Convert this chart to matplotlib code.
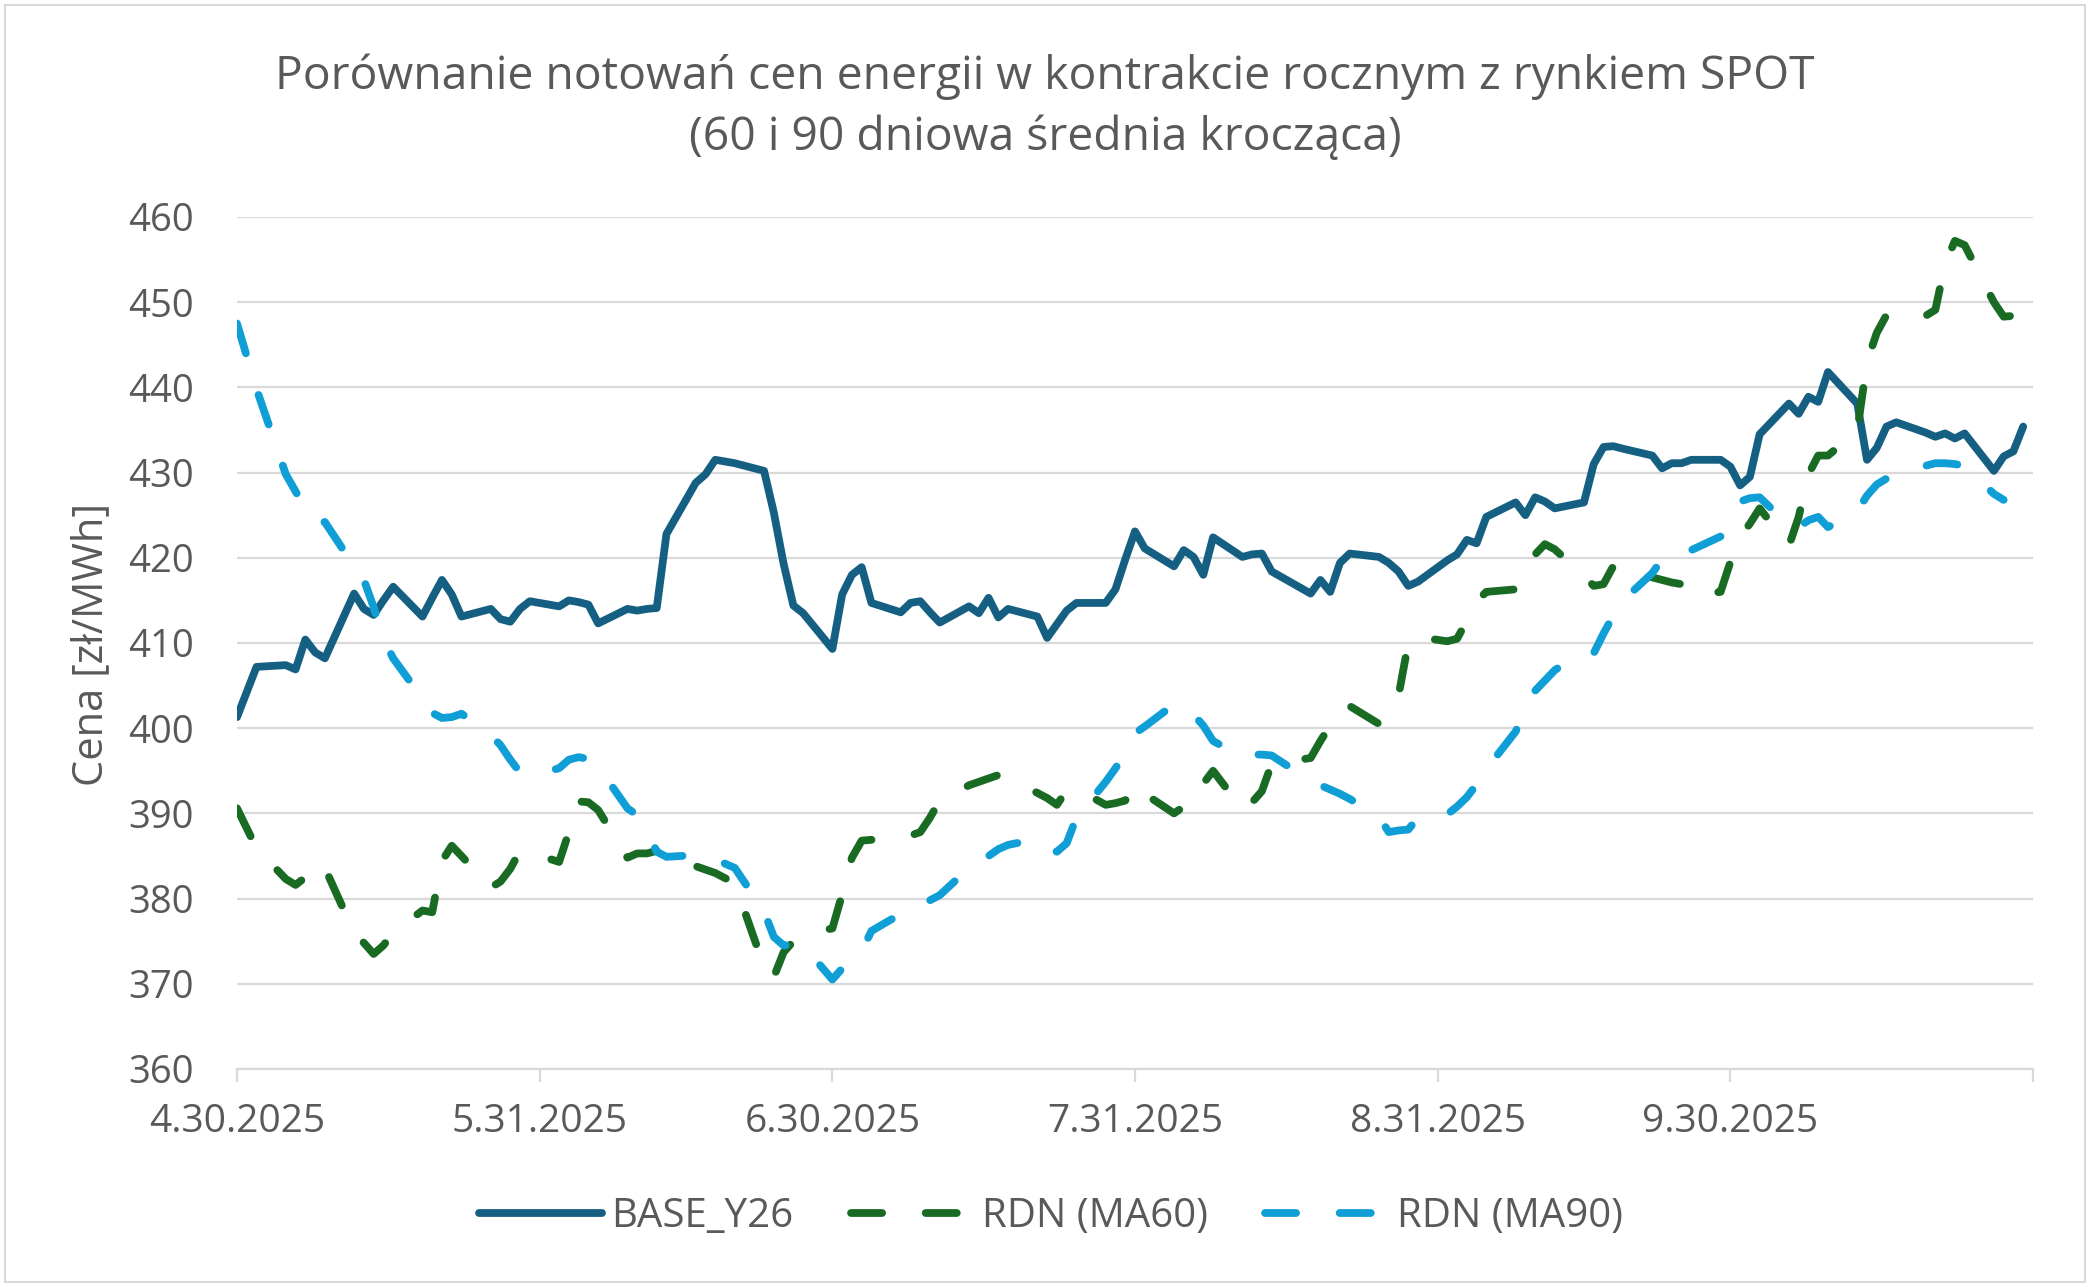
import matplotlib
matplotlib.use("Agg")
import matplotlib.pyplot as plt
from matplotlib.patches import Rectangle
import pandas as pd

# trading days (TGE), Polish holidays removed
holidays = ["2025-05-01", "2025-06-19", "2025-08-15"]
dates = pd.bdate_range("2025-04-30", "2025-10-30", freq="C", holidays=holidays)

# BASE_Y26, one value per trading day
base_y26 = [
    401.3,
    407.2, 407.4, 406.9, 410.4, 408.9, 408.2, 415.8, 414.0, 413.3, 415.0, 416.6,
    413.1, 415.3, 417.4, 415.7, 413.1, 414.0, 412.8, 412.5, 414.0, 414.9,
    414.3, 415.0, 414.8, 414.5, 412.3, 414.0, 413.8, 414.0, 414.1, 422.8,
    428.8, 429.8, 431.5, 431.1, 430.2, 425.3, 419.3, 414.4, 413.5, 409.3,
    415.7, 418.0, 418.9, 414.7, 413.6, 414.7, 414.9, 413.6, 412.4, 414.3, 413.5,
    415.3, 413.0, 414.0, 413.1, 410.6, 412.2, 413.8, 414.7, 414.7, 416.3, 419.8, 423.1,
    421.1, 419.0, 420.9, 420.1, 418.0, 422.4, 420.1, 420.4, 420.5, 418.4,
    415.8, 417.4, 416.0, 419.4, 420.5, 420.1, 419.4, 418.4, 416.7, 417.2,
    419.7, 420.4, 422.1, 421.7, 424.8, 426.5, 425.0, 427.1, 426.6, 425.8, 426.5,
    431.0, 433.0, 433.1, 432.8, 432.0, 430.5, 431.1, 431.1, 431.5, 431.5, 430.7,
    428.5, 429.5, 434.5, 438.1, 436.9, 438.9, 438.3, 441.8, 438.1, 431.5, 432.9,
    435.4, 435.9, 434.7, 434.2, 434.6, 434.0, 434.6, 430.2, 431.9, 432.5, 435.4,
]

# RDN 60 day moving average
rdn_ma60 = [
    390.6,
    385.9, 382.3, 381.6, 382.5, 384.2, 383.6, 376.0, 374.8, 373.5, 374.5, 376.0,
    378.6, 378.4, 384.4, 386.2, 385.0, 381.3, 382.0, 383.5, 385.6, 385.4,
    384.3, 387.8, 391.4, 391.3, 390.4, 384.8, 385.3, 385.3, 385.6, 385.0,
    383.8, 383.4, 383.0, 381.8, 372.0, 370.8, 373.7, 375.0, 375.8, 376.5,
    380.5, 384.8, 386.8, 386.9, 387.1, 387.4, 387.8, 389.5, 391.5, 393.3, 393.7,
    394.1, 394.5, 394.3, 392.4, 391.8, 391.0, 392.7, 392.9, 391.0, 391.2, 391.5, 393.5,
    392.3, 390.0, 390.8, 391.0, 393.5, 395.0, 390.5, 391.3, 392.6, 395.8,
    396.5, 398.5, 400.3, 402.3, 402.6, 400.5, 401.7, 403.8, 410.0, 410.7,
    410.2, 410.5, 412.6, 414.9, 416.0, 416.3, 418.3, 420.4, 421.6, 421.0, 417.9,
    416.7, 416.9, 419.0, 419.6, 417.7, 417.4, 417.1, 416.9, 415.6, 416.0, 419.5,
    422.5, 424.0, 425.8, 421.4, 424.8, 429.8, 432.0, 432.0, 434.9, 443.0, 446.4,
    448.5, 448.7, 448.4, 449.1, 454.5, 457.2, 456.7, 450.0, 448.3, 448.4, 448.6,
]

# RDN 90 day moving average
rdn_ma90 = [
    447.5,
    439.8, 429.8, 427.8, 425.7, 424.2, 424.2, 419.0, 417.4, 414.2, 410.5, 408.2,
    403.5, 401.8, 401.2, 401.3, 401.7, 399.2, 398.0, 396.3, 394.8, 394.4,
    395.3, 396.3, 396.6, 396.4, 395.5, 390.6, 389.8, 388.0, 385.5, 384.9,
    385.1, 384.8, 384.6, 383.6, 378.5, 375.5, 374.5, 374.6, 374.5, 370.5,
    371.8, 372.8, 373.8, 376.2, 378.2, 378.7, 379.6, 379.8, 380.4, 383.6, 384.3,
    385.0, 385.8, 386.3, 387.0, 386.0, 385.5, 386.5, 389.5, 393.7, 395.3, 397.0, 399.4,
    400.2, 402.8, 402.7, 401.6, 400.3, 398.5, 396.6, 396.9, 396.9, 396.8,
    393.8, 393.3, 392.8, 392.3, 391.7, 389.6, 387.8, 388.0, 388.1, 389.5,
    389.9, 390.8, 391.9, 393.4, 395.2, 399.6, 402.2, 404.4, 405.6, 406.8, 409.1,
    408.8, 411.1, 413.2, 415.0, 418.2, 419.8, 420.6, 420.4, 420.9, 422.5, 424.5,
    426.6, 427.0, 427.1, 423.8, 423.6, 424.4, 424.8, 423.6, 425.5, 427.3, 428.6,
    429.3, 430.0, 430.8, 431.1, 431.1, 431.0, 430.8, 427.5, 426.8,
]

series_names = ["BASE_Y26", "RDN (MA60)", "RDN (MA90)"]
month_ends = ["2025-04-30", "2025-05-31", "2025-06-30", "2025-07-31",
              "2025-08-31", "2025-09-30", "2025-10-31"]

TXT = "#595959"
GRID = "#D9D9D9"
plt.rcParams["font.family"] = ["Open Sans", "DejaVu Sans"]

fig = plt.figure(figsize=(20.9, 12.87), dpi=100)
ax = fig.add_axes([0.1134, 0.1694, 0.8593, 0.662])

lw = 5.6
ax.plot(dates[:len(base_y26)], base_y26, color="#156082", lw=lw,
        solid_joinstyle="round", solid_capstyle="round", label=series_names[0], zorder=3)
ax.plot(dates[:len(rdn_ma60)], rdn_ma60, color="#196B24", lw=lw, dashes=(4.0, 5.6),
        dash_capstyle="round", dash_joinstyle="round", label=series_names[1], zorder=4)
ax.plot(dates[:len(rdn_ma90)], rdn_ma90, color="#0F9ED5", lw=lw, dashes=(4.0, 5.6),
        dash_capstyle="round", dash_joinstyle="round", label=series_names[2], zorder=5)

ticks = pd.to_datetime(month_ends)
ax.set_xlim(ticks[0], ticks[-1])
ax.set_ylim(360, 460)
ax.set_yticks(range(360, 461, 10))
ax.set_xticks(ticks)
ax.set_xticklabels([f"{d.month}.{d.day}.{d.year}" for d in ticks[:-1]] + [""])

ax.grid(axis="y", color=GRID, lw=1.6, zorder=0)
ax.set_axisbelow(True)
for s in ["top", "right", "left"]:
    ax.spines[s].set_visible(False)
ax.spines["bottom"].set_color(GRID)
ax.spines["bottom"].set_linewidth(1.6)
ax.tick_params(axis="y", length=0, pad=31, labelsize=27.5, labelcolor=TXT)
ax.tick_params(axis="x", length=9.5, width=1.6, color=GRID, pad=15,
               labelsize=28, labelcolor=TXT)

fig.text(0.5, 1 - 77 / 1287, "Porównanie notowań cen energii w kontrakcie rocznym z rynkiem SPOT",
         ha="center", va="center", fontsize=33.3, color=TXT)
fig.text(0.5, 1 - 138 / 1287, "(60 i 90 dniowa średnia krocząca)",
         ha="center", va="center", fontsize=33.3, color=TXT)
fig.text(91 / 2090, 1 - 644 / 1287, "Cena [zł/MWh]", rotation=90,
         ha="center", va="center", fontsize=30, color=TXT)

fig.legend(loc="center", bbox_to_anchor=(0.503, 1 - 1217 / 1287), ncol=3,
           frameon=False, fontsize=29, labelcolor=TXT, handlelength=3.05,
           handletextpad=0.22, columnspacing=1.42)

fig.patches.append(Rectangle((0.0025, 0.004), 0.995, 0.992, transform=fig.transFigure,
                             fill=False, edgecolor=GRID, lw=1.5))

fig.savefig("out.png", dpi=100, facecolor="white")
